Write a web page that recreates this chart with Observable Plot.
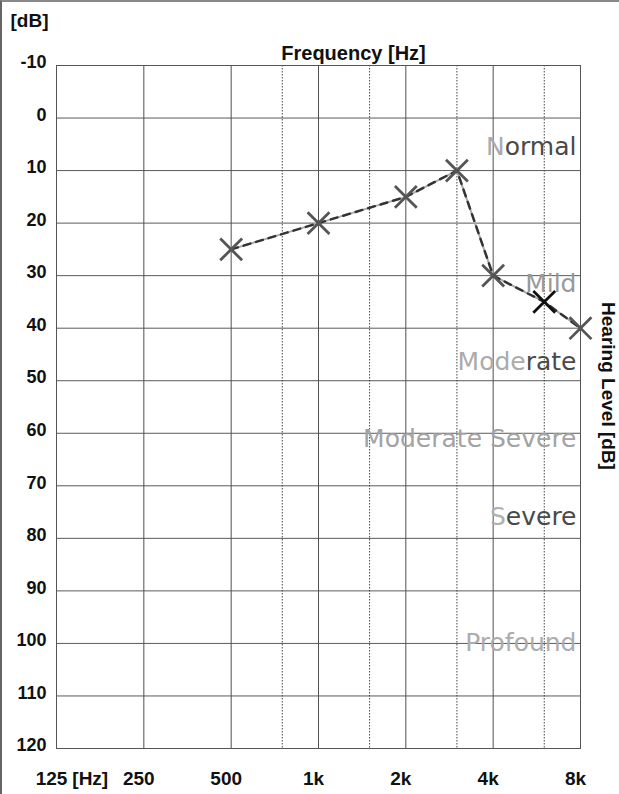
<!DOCTYPE html>
<html><head><meta charset="utf-8">
<script src="https://cdn.jsdelivr.net/npm/d3@7"></script>
<script src="https://cdn.jsdelivr.net/npm/@observablehq/plot@0.6"></script>
<style>
body{margin:0;background:#fff}
#chart{position:relative;width:619px;height:794px}
#chart::after{content:"";position:absolute;left:0;top:0;width:617px;height:792px;border-left:2px solid #666;border-top:2px solid #888;pointer-events:none}
</style>
</head><body><div id="chart"></div>
<script>
// Audiogram data
const frequencies = [500, 1000, 2000, 3000, 4000, 6000, 8000];
const thresholds  = [25, 20, 15, 10, 30, 35, 40];
const markerShade = ["#555", "#555", "#555", "#555", "#555", "#111", "#555"];

const dbTicks = d3.range(-10, 121, 10);
const octaveFreqs = [125, 250, 500, 1000, 2000, 4000, 8000];
const midFreqs = [750, 1500, 3000, 6000];
const tickFreqs  = [125, 170, 250, 500, 1000, 2000, 4000, 8000];
const tickLabels = ["125", "[Hz]", "250", "500", "1k", "2k", "4k", "8k"];

// hearing-loss degree labels: faded lead part + darker trailing part
const degreeLight = ["N", "Mild", "Mode", "Moderate Severe", "S", "Profound"];
const degreeDark  = ["ormal", "", "rate", "", "evere", ""];
const degreeLevels = [5.5, 31.5, 46.5, 61, 76, 100];
const degreeLightColors = ["#ababab", "#999", "#ababab", "#a3a3a3", "#b0b0b0", "#adadad"];
const degreeDarkColor = "#4a4a4a";

const degreeFont = "25px 'DejaVu Sans'";
const ctx = document.createElement("canvas").getContext("2d");
ctx.font = degreeFont;
const degrees = degreeLight.map((t, i) => ({
  light: t, dark: degreeDark[i], db: degreeLevels[i], c: degreeLightColors[i],
  w: degreeDark[i] ? ctx.measureText(degreeDark[i]).width : 0
}));

const points = frequencies.map((f, i) => ({f, db: thresholds[i], c: markerShade[i]}));
const ticksX = tickFreqs.map((f, i) => ({f, t: tickLabels[i]}));

const bold = "Liberation Sans, Arial, sans-serif";
const labelDx = -4;

const chart = Plot.plot({
  width: 619,
  height: 794,
  marginLeft: 56,
  marginRight: 39,
  marginTop: 65,
  marginBottom: 46,
  style: {background: "#fff", overflow: "visible"},
  x: {type: "log", domain: [125, 8000], axis: null},
  y: {domain: [-10, 120], reverse: true, axis: null},
  marks: [
    Plot.ruleY(dbTicks, {stroke: "#5a5a5a", strokeWidth: 1}),
    Plot.ruleX(octaveFreqs, {stroke: "#505050", strokeWidth: 1}),
    Plot.ruleX(midFreqs, {stroke: "#444", strokeWidth: 1, strokeDasharray: "1.5,1.5"}),
    Plot.frame({stroke: "#555", strokeWidth: 1}),
    Plot.text(degrees.filter(d => d.dark), {x: 8000, y: "db", text: "dark", fill: degreeDarkColor,
      textAnchor: "end", dx: labelDx, fontSize: 25, fontFamily: "DejaVu Sans, Verdana, sans-serif"}),
    Plot.text(degrees, {x: 8000, y: "db", text: "light", fill: "c", textAnchor: "end",
      dx: labelDx, fontSize: 25, fontFamily: "DejaVu Sans, Verdana, sans-serif"}),
    Plot.line(points, {x: "f", y: "db", stroke: "#aaa", strokeWidth: 2}),
    Plot.line(points, {x: "f", y: "db", stroke: "#333", strokeWidth: 2.5, strokeDasharray: "7,6"}),
    Plot.dot(points, {x: "f", y: "db", symbol: "times", r: 10, stroke: "c", strokeWidth: 2.8}),
    Plot.text(dbTicks, {x: 125, y: d => d, text: d => String(d), textAnchor: "end", dx: -10, dy: -3,
      fontSize: 18, fontWeight: "bold", fontFamily: bold, fill: "#111"}),
    Plot.text(ticksX, {x: "f", y: 120, text: "t", dx: -5, dy: 30, fontSize: 19, fontWeight: "bold",
      fontFamily: bold, fill: "#111"}),
    Plot.text(["Frequency [Hz]"], {frameAnchor: "top", textAnchor: "middle", lineAnchor: "middle",
      dx: 35, dy: -12, fontSize: 20, fontWeight: "bold", fontFamily: bold, fill: "#111"}),
    Plot.text(["[dB]"], {frameAnchor: "top-left", textAnchor: "middle", lineAnchor: "middle",
      dx: -27, dy: -45, fontSize: 19, fontWeight: "bold", fontFamily: bold, fill: "#111"}),
    Plot.text(["Hearing Level [dB]"], {frameAnchor: "right", textAnchor: "middle", lineAnchor: "middle",
      rotate: 90, dx: 28, dy: -21, fontSize: 19, fontWeight: "bold", fontFamily: bold, fill: "#111"})
  ]
});
document.getElementById("chart").appendChild(chart);

// shift the faded lead part of split labels left by the width of the dark part
const lightTexts = chart.querySelectorAll("g[aria-label='text']")[1].querySelectorAll("text");
degrees.forEach((d, i) => {
  if (d.w) {
    const el = lightTexts[i];
    const tr = el.getAttribute("transform") || "";
    el.setAttribute("transform", tr + ` translate(${-d.w},0)`);
  }
});
</script>
</body></html>
